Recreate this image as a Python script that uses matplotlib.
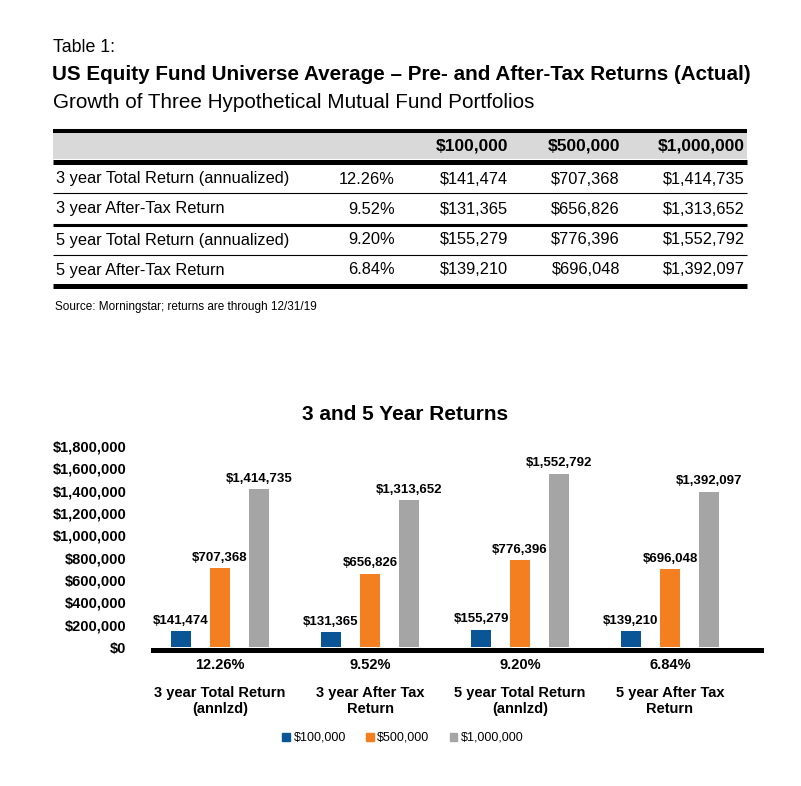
import matplotlib
matplotlib.use("Agg")
import matplotlib.pyplot as plt
from matplotlib.patches import Patch, Rectangle
import numpy as np

plt.rcParams['font.family'] = ['Liberation Sans', 'DejaVu Sans']

# data
row_labels = ["3 year Total Return (annualized)", "3 year After-Tax Return",
              "5 year Total Return (annualized)", "5 year After-Tax Return"]
rates = ["12.26%", "9.52%", "9.20%", "6.84%"]
portfolios = ["$100,000", "$500,000", "$1,000,000"]
v100k = [141474, 131365, 155279, 139210]
v500k = [707368, 656826, 776396, 696048]
v1m = [1414735, 1313652, 1552792, 1392097]
categories = ["3 year Total Return\n(annlzd)", "3 year After Tax\nReturn",
              "5 year Total Return\n(annlzd)", "5 year After Tax\nReturn"]
colors = ["#0B5596", "#F47F20", "#A5A5A5"]

W, H = 801, 786
fig = plt.figure(figsize=(W / 100, H / 100), dpi=100)

# ---- table part, drawn in pixel coords ----
ax_t = fig.add_axes([0, 0, 1, 1])
ax_t.set_xlim(0, W)
ax_t.set_ylim(H, 0)
ax_t.axis("off")

ax_t.text(53, 47, "Table 1:", fontsize=12.8, va="center", ha="left")
ax_t.text(52, 75, "US Equity Fund Universe Average \u2013 Pre- and After-Tax Returns (Actual)",
          fontsize=14.9, fontweight="bold", va="center", ha="left")
ax_t.text(53, 102, "Growth of Three Hypothetical Mutual Fund Portfolios",
          fontsize=14.9, va="center", ha="left")

x0, x1 = 53, 747
ax_t.add_patch(Rectangle((x0, 133), x1 - x0, 26, color="#D9D9D9", lw=0))
ax_t.hlines([131], x0, x1, color="black", lw=2.9)
ax_t.hlines([162], x0, x1, color="black", lw=3.6)
ax_t.hlines([193, 255], x0, x1, color="black", lw=0.8)
ax_t.hlines([224.5], x0, x1, color="black", lw=2.2)
ax_t.hlines([285.5], x0, x1, color="black", lw=3.6)

col_right = [508, 620, 745]
for xr, p in zip(col_right, portfolios):
    ax_t.text(xr, 146, p, fontsize=12.5, fontweight="bold", ha="right", va="center")

row_y = [179, 209, 240, 270]
for i, y in enumerate(row_y):
    ax_t.text(56, y, row_labels[i], fontsize=11.8, ha="left", va="center")
    ax_t.text(395, y, rates[i], fontsize=11.8, ha="right", va="center")
    for xr, vals in zip(col_right, [v100k, v500k, v1m]):
        ax_t.text(xr, y, "${:,}".format(vals[i]), fontsize=11.8, ha="right", va="center")

ax_t.text(55, 307, "Source: Morningstar; returns are through 12/31/19", fontsize=8.5,
          ha="left", va="center")

# ---- bar chart ----
ax = fig.add_axes([153 / W, 1 - 647 / H, (761 - 153) / W, 201 / H])
x = np.arange(len(categories))
w = 0.133
off = 0.26
for k, (vals, c, lab) in enumerate(zip([v100k, v500k, v1m], colors, portfolios)):
    bars = ax.bar(x + (k - 1) * off, vals, width=w, color=c, label=lab, zorder=2)
    ax.bar_label(bars, labels=["${:,}".format(v) for v in vals], padding=3,
                 fontsize=9.5, fontweight="bold")

ax.set_xlim(-0.447, 3.607)
ax.set_ylim(0, 1800000)
ax.set_yticks(np.arange(0, 1800001, 200000))
ax.set_yticklabels(["${:,}".format(v) for v in range(0, 1800001, 200000)],
                   fontsize=10.5, fontweight="bold")
ax.tick_params(axis="y", length=0, pad=19)
ax.set_xticks([])
for s in ["top", "right", "left"]:
    ax.spines[s].set_visible(False)
ax.spines["bottom"].set_linewidth(3.6)
ax.spines["bottom"].set_position(("outward", 1.8))
ax.patch.set_alpha(0)

for i in range(len(categories)):
    ax.annotate(rates[i], xy=(x[i], 0), xycoords=("data", "axes fraction"),
                xytext=(0, -13), textcoords="offset points", ha="center", va="center",
                fontsize=10.5, fontweight="bold")
    ax.annotate(categories[i], xy=(x[i], 0), xycoords=("data", "axes fraction"),
                xytext=(0, -28), textcoords="offset points", ha="center", va="top",
                fontsize=10.5, fontweight="bold", linespacing=1.15)

fig.text(405 / W, 1 - 415 / H, "3 and 5 Year Returns", fontsize=15,
         fontweight="bold", ha="center", va="center")

handles = [Patch(color=c, label=l) for c, l in zip(colors, portfolios)]
fig.legend(handles=handles, loc="center", bbox_to_anchor=(403 / W, 1 - 738 / H),
           ncol=3, frameon=False, fontsize=9, handlelength=0.6, handleheight=0.6,
           handletextpad=0.3, columnspacing=1.6)

fig.savefig("out.png", dpi=100)
